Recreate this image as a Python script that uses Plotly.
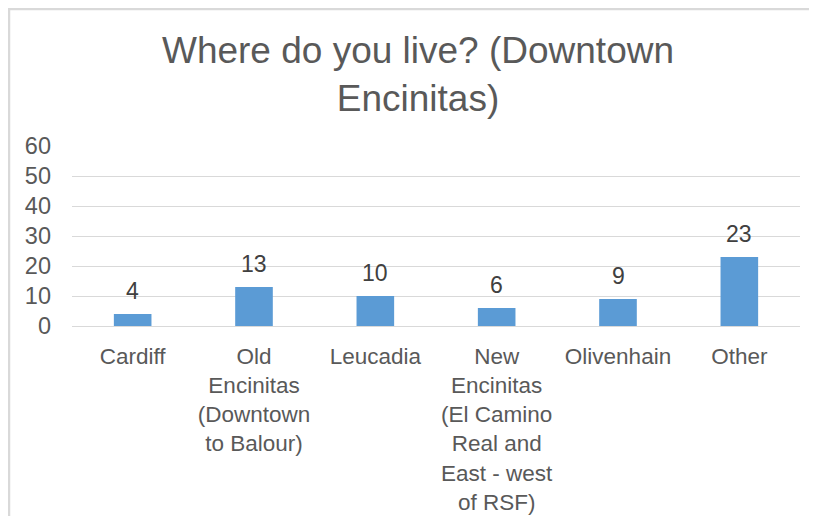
import plotly.graph_objects as go

categories = [
    "Cardiff",
    "Old<br>Encinitas<br>(Downtown<br>to Balour)",
    "Leucadia",
    "New<br>Encinitas<br>(El Camino<br>Real and<br>East - west<br>of RSF)",
    "Olivenhain",
    "Other",
]
values = [4, 13, 10, 6, 9, 23]
y_ticks = [0, 10, 20, 30, 40, 50, 60]
title_text = "Where do you live? (Downtown<br>Encinitas)"

FONT = "Liberation Sans, Arial, sans-serif"
TXT = "#595959"
# page body has an 8px margin, so the figure is 809x508 in the visible window
W, H = 809, 508
ML, MR, MT, MB = 64, 17, 138, 190
PW, PH = W - ML - MR, H - MT - MB

def px_x(p):
    return (p - ML) / PW

def px_y(p):
    return (H - MB - p) / PH

fig = go.Figure(
    go.Bar(
        x=categories,
        y=values,
        marker=dict(color="#5B9BD5", line=dict(width=0)),
        hoverinfo="x+y",
    )
)

annotations = []
for c, v in zip(categories, values):
    annotations.append(
        dict(
            x=c, y=v, xref="x", yref="y", text=str(v), showarrow=False,
            yanchor="bottom", yshift=8,
            font=dict(family=FONT, size=23, color="#404040"),
        )
    )

fig.update_layout(
    width=W, height=H,
    margin=dict(l=ML, r=MR, t=MT, b=MB, autoexpand=False),
    paper_bgcolor="white", plot_bgcolor="white",
    font=dict(family=FONT, color=TXT),
    title=dict(
        text=title_text, x=410 / W, xanchor="center", xref="container",
        y=1 - 55 / H, yanchor="top", yref="container",
        font=dict(family=FONT, size=37, color=TXT),
    ),
    bargap=0.69,
    showlegend=False,
    annotations=annotations,
    shapes=[
        dict(type="line", xref="paper", yref="paper",
             x0=px_x(0), x1=px_x(W + 10), y0=px_y(1), y1=px_y(1),
             line=dict(color="#d9d9d9", width=2.5)),
        dict(type="line", xref="paper", yref="paper",
             x0=px_x(1), x1=px_x(1), y0=px_y(0), y1=px_y(H + 10),
             line=dict(color="#d9d9d9", width=2.5)),
    ],
)
fig.update_xaxes(
    showgrid=False, showline=False, zeroline=False, ticks="",
    tickfont=dict(family=FONT, size=22.5, color=TXT),
    ticklabelstandoff=14, tickangle=0, automargin=False,
)
fig.update_yaxes(
    range=[0, 60], tickvals=y_ticks, ticktext=[str(t) for t in y_ticks],
    showgrid=True, gridcolor="#d9d9d9", gridwidth=1.3,
    zeroline=True, zerolinecolor="#d9d9d9", zerolinewidth=1.3,
    showline=False, ticks="",
    tickfont=dict(family=FONT, size=23.5, color=TXT),
    ticklabelstandoff=20, automargin=False,
)

fig.write_html("out.html")
